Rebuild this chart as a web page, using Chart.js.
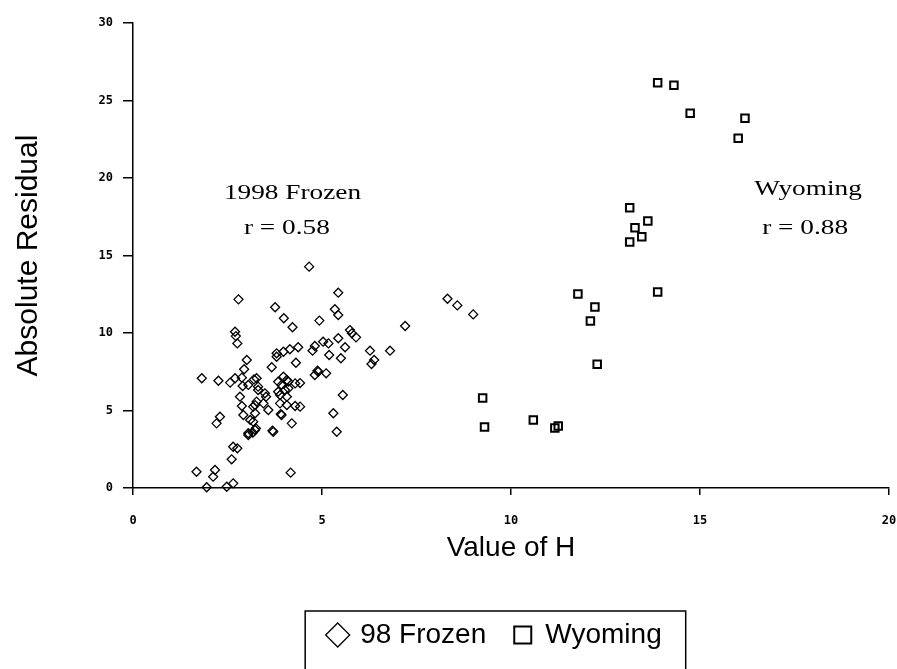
<!DOCTYPE html>
<html>
<head>
<meta charset="utf-8">
<script src="https://cdn.jsdelivr.net/npm/chart.js@4/dist/chart.umd.min.js"></script>
<style>
  body { margin: 0; background: #fff; }
  #wrap { width: 897px; height: 669px; }
</style>
</head>
<body>
<div id="wrap"><canvas id="chart" width="897" height="669"></canvas></div>
<script>
// 1998 Frozen (diamonds): value of H, absolute residual
const frozenH = [
    2.79, 3.76, 2.70, 2.72, 2.76, 3.01, 2.94, 3.67, 1.82, 2.26, 2.57, 2.70, 2.90, 3.05, 3.20, 3.31,
    3.49, 3.84, 3.84, 2.83, 2.88, 3.18, 3.27, 3.45, 3.52, 3.58, 3.10, 2.30, 2.21, 3.25, 3.05, 3.17,
    3.71, 2.65, 2.76, 2.61, 1.68, 2.17, 2.12, 1.95, 2.48, 2.65,
    4.66, 5.43, 3.99, 4.22, 5.34, 5.43, 4.93, 5.74, 5.90, 6.27, 6.80, 6.38, 6.31, 3.80, 3.98, 4.15,
    4.37, 4.31, 4.81, 4.75, 5.17, 5.43, 5.61, 5.19, 5.50, 4.88, 4.81, 5.11, 3.98, 4.11, 4.29, 3.93,
    4.02, 3.89, 4.07, 3.89, 4.07, 4.29, 3.91, 4.20, 3.69, 5.55, 5.30, 5.39, 4.17,
    8.32, 8.58, 9.00, 7.20,
    3.80, 2.88, 3.27, 3.31, 4.07, 4.11, 3.23, 2.92, 3.23, 3.18, 3.93, 3.23, 3.05, 5.03, 5.79, 4.90,
    4.42, 4.42
];
const frozenResid = [
    12.17, 11.66, 10.08, 9.80, 9.33, 8.26, 7.66, 7.79, 7.08, 6.92, 6.80, 7.08, 6.58, 6.65, 7.01, 6.54,
    6.11, 6.86, 6.21, 5.89, 5.29, 5.25, 5.57, 5.46, 5.89, 5.03, 4.39, 4.60, 4.17, 3.85, 3.53, 3.57,
    3.63, 2.66, 2.56, 1.85, 1.05, 1.16, 0.73, 0.05, 0.08, 0.30,
    14.28, 12.60, 10.95, 10.37, 11.53, 11.16, 10.80, 10.19, 9.72, 8.86, 8.86, 8.26, 8.00, 8.47, 8.79, 8.95,
    9.08, 8.08, 9.16, 8.86, 9.33, 9.66, 9.08, 8.58, 8.37, 7.57, 7.29, 7.40, 7.18, 6.86, 6.75, 6.65,
    6.32, 6.00, 5.89, 5.46, 5.35, 5.29, 4.77, 4.17, 3.70, 6.00, 4.82, 3.63, 0.99,
    12.21, 11.78, 11.20, 10.45,
    8.69, 7.12, 7.08, 6.32, 6.97, 6.43, 5.35, 4.71, 4.82, 4.28, 4.71, 3.74, 3.42, 9.44, 9.98, 7.50,
    6.77, 5.25
];

// Wyoming (squares)
const wyomingH = [13.88, 14.31, 14.74, 16.19, 16.01, 13.14, 13.62, 13.28, 13.46, 13.14,
    11.77, 13.88, 12.22, 12.10, 12.28, 9.25, 9.30, 10.59, 11.16, 11.25];
const wyomingResid = [26.15, 25.98, 24.17, 23.85, 22.56, 18.08, 17.23, 16.79, 16.21, 15.87,
    12.52, 12.65, 11.68, 10.77, 7.98, 5.81, 3.94, 4.39, 3.87, 4.00];

const seriesNames = ['98 Frozen', 'Wyoming'];
const xTicks = [0, 5, 10, 15, 20];
const yTicks = [0, 5, 10, 15, 20, 25, 30];

// text notes in the plot, placed by data value (baseline)
const noteText = ['1998 Frozen', 'r = 0.58', 'Wyoming', 'r = 0.88'];
const noteH = [4.22, 4.07, 17.86, 17.78];
const noteResid = [18.65, 16.39, 18.9, 16.39];

function toPoints(xs, ys) {
    return xs.map((v, i) => ({ x: v, y: ys[i] }));
}

const tickFont = { family: 'DejaVu Sans Mono', size: 12, weight: 'bold' };
const titleFont = { family: 'Liberation Sans', size: 28 };
const legendTail = '    '; // pushes the centred legend a bit to the left, like the original

const extras = {
    id: 'extras',
    afterDraw(chart) {
        const { ctx, scales: { x, y } } = chart;
        ctx.save();
        ctx.fillStyle = '#000';
        ctx.textAlign = 'center';
        ctx.textBaseline = 'alphabetic';
        ctx.font = '21px "Liberation Serif"';
        noteText.forEach((t, i) => {
            ctx.save();
            ctx.translate(x.getPixelForValue(noteH[i]), y.getPixelForValue(noteResid[i]));
            ctx.scale(1.3, 1); // the original type is stretched sideways
            ctx.fillText(t, 0, 0);
            ctx.restore();
        });

        // box round the legend
        const boxes = chart.legend.legendHitBoxes;
        if (boxes && boxes.length) {
            ctx.font = '28px "Liberation Sans"';
            const tail = ctx.measureText(legendTail).width;
            const left = Math.min(...boxes.map(b => b.left)) - 24;
            const right = Math.max(...boxes.map(b => b.left + b.width)) - tail + 24;
            const mid = boxes[0].top + boxes[0].height / 2;
            ctx.strokeStyle = '#000';
            ctx.lineWidth = 1.5;
            ctx.strokeRect(left, mid - 24, right - left, 669 - (mid - 24) + 5);
        }
        ctx.restore();
    }
};

const ctx = document.getElementById('chart').getContext('2d');
new Chart(ctx, {
    type: 'scatter',
    data: {
        datasets: [{
            label: seriesNames[0],
            data: toPoints(frozenH, frozenResid),
            pointStyle: 'rectRot',
            pointRadius: 4.5,
            borderWidth: 1.3,
            borderColor: '#000',
            backgroundColor: 'rgba(0,0,0,0)'
        }, {
            label: seriesNames[1] + legendTail,
            data: toPoints(wyomingH, wyomingResid),
            pointStyle: 'rect',
            pointRadius: 5.3,
            borderWidth: 2,
            borderColor: '#000',
            backgroundColor: 'rgba(0,0,0,0)'
        }]
    },
    options: {
        responsive: false,
        animation: false,
        clip: false,
        layout: { padding: { top: 23, right: 8, bottom: 10, left: 0 } },
        plugins: {
            tooltip: { enabled: false },
            legend: {
                position: 'bottom',
                fullSize: false,
                labels: {
                    usePointStyle: true,
                    boxWidth: 17,
                    boxHeight: 17,
                    padding: 28,
                    color: '#000',
                    font: titleFont
                }
            }
        },
        scales: {
            x: {
                type: 'linear',
                min: 0,
                max: 20,
                afterBuildTicks: s => { s.ticks = xTicks.map(v => ({ value: v })); },
                afterFit: s => { s.height = 105; s.paddingLeft = 0; s.paddingRight = 0; },
                ticks: { color: '#000', font: tickFont, padding: 19, maxRotation: 0 },
                grid: { drawOnChartArea: false, tickLength: 7, color: '#000', lineWidth: 1.5 },
                border: { color: '#000', width: 1.5 },
                title: { display: true, text: 'Value of H', color: '#000', font: titleFont,
                         padding: { top: 0, bottom: 28 } }
            },
            y: {
                type: 'linear',
                min: 0,
                max: 30,
                afterBuildTicks: s => { s.ticks = yTicks.map(v => ({ value: v })); },
                afterFit: s => { s.width = 133; s.paddingTop = 0; s.paddingBottom = 0; },
                ticks: { color: '#000', font: tickFont, padding: 10 },
                grid: { drawOnChartArea: false, tickLength: 10, color: '#000', lineWidth: 1.5 },
                border: { color: '#000', width: 1.5 },
                title: { display: true, text: 'Absolute Residual', color: '#000',
                         font: { family: 'Liberation Sans', size: 30 },
                         padding: { top: 11, bottom: 0 } }
            }
        }
    },
    plugins: [extras]
});
</script>
</body>
</html>
